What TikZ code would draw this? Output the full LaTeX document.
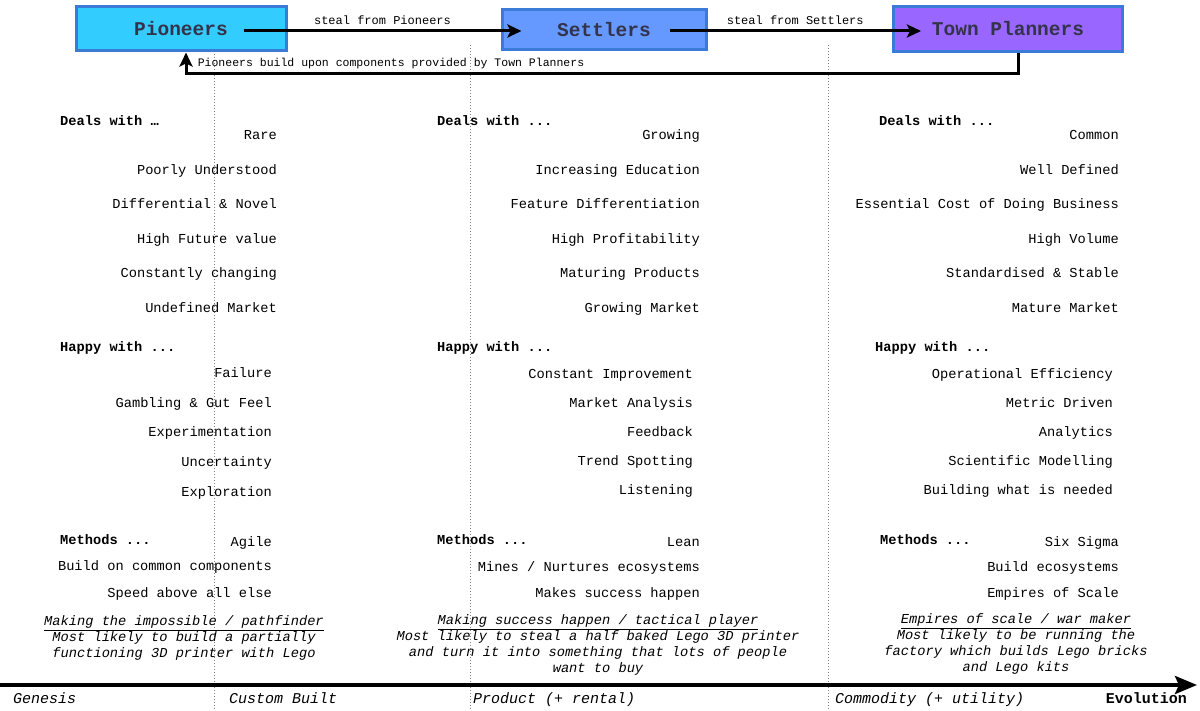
\documentclass[tikz,border=0pt]{standalone}
\usepackage{fontspec}
\setmainfont{Liberation Mono}
\usetikzlibrary{arrows.meta,positioning}
\definecolor{pioneercyan}{HTML}{33CCFF}
\definecolor{settlerblue}{HTML}{6699FF}
\definecolor{plannerpurple}{HTML}{9966FF}
\definecolor{boxedge}{HTML}{3A7BD8}
\definecolor{boxtext}{HTML}{33334A}
\newcommand{\sizeto}[1]{\fontsize{#1}{16pt}\selectfont}
\begin{document}
\begin{tikzpicture}[x=1pt,y=-1pt,
  rolebox/.style={draw=boxedge,line width=3pt,text=boxtext,font=\sizeto{19.5pt}\bfseries,inner sep=0pt},
  flow/.style={line width=3pt,-{Stealth[length=14pt,width=13pt,inset=3pt]}},
  item/.style={font=\sizeto{13.7pt},inner sep=0pt,text height=9pt,text depth=0pt},
  head/.style={item,font=\sizeto{13.7pt}\bfseries},
  story/.style={font=\sizeto{13.7pt}\itshape,align=center,inner sep=0pt},
  stage/.style={font=\sizeto{15pt}\itshape,inner sep=0pt,text height=10pt,text depth=0pt},
  phase/.style={gray,line width=1pt,dash pattern=on 1pt off 2pt}]
  \useasboundingbox (0,0) rectangle (1200,711);
  % phase boundaries
  \foreach \x in {214,470,828} \draw[phase] (\x,45) -- (\x,711);
  % the three roles
  \node[rolebox,fill=pioneercyan,minimum width=210pt,minimum height=44pt] (pio) at (181,29) {Pioneers};
  \node[rolebox,fill=settlerblue,minimum width=204pt,minimum height=40pt] (set) at (604,30) {Settlers};
  \node[rolebox,fill=plannerpurple,minimum width=229pt,minimum height=45pt] (tp) at (1008,29) {Town Planners};
  \draw[flow] ([xshift=-44pt,yshift=-2pt]pio.east) -- ([xshift=21pt,yshift=-1pt]set.west)
    node[midway,above=2pt,font=\sizeto{12pt}] (steal1) {steal from Pioneers};
  \draw[flow] ([xshift=-38pt,yshift=-1pt]set.east) -- ([xshift=29pt,yshift=-2pt]tp.west)
    node[midway,above=2pt,font=\sizeto{12pt}] (steal2) {steal from Settlers};
  \coordinate (back) at (391,74);
  \draw[flow] ([xshift=10pt]tp.south) |- (back) -| ([xshift=5pt]pio.south);
  \node[font=\sizeto{11.5pt},inner sep=0pt] (backlbl) at (391,64) {Pioneers build upon components provided by Town Planners};
  % Pioneers column
  \node[head,anchor=west] (phead1) at (60,121) {Deals with …};
  \foreach \t [count=\i] in {Rare,Poorly Understood,Differential \& Novel,High Future value,Constantly changing,Undefined Market}
    \node[item,anchor=east] (pdeal\i) at (277,{135+34.6*(\i-1)}) {\t};
  \node[head,anchor=west] (phead2) at (60,347) {Happy with ...};
  \foreach \t [count=\i] in {Failure,Gambling \& Gut Feel,Experimentation,Uncertainty,Exploration}
    \node[item,anchor=east] (phappy\i) at (272,{373+29.7*(\i-1)}) {\t};
  \node[head,anchor=west] (phead3) at (60,540) {Methods ...};
  \node[item,anchor=east] (pmeth1) at (272,542) {Agile};
  \node[item,anchor=east] (pmeth2) at (272,566) {Build on common components};
  \node[item,anchor=east] (pmeth3) at (272,593) {Speed above all else};
  \node[story] (pstory) at (184,638) {\underline{Making the impossible / pathfinder}\\Most likely to build a partially\\functioning 3D printer with Lego};
  % Settlers column
  \node[head,anchor=west] (shead1) at (437,121) {Deals with ...};
  \foreach \t [count=\i] in {Growing,Increasing Education,Feature Differentiation,High Profitability,Maturing Products,Growing Market}
    \node[item,anchor=east] (sdeal\i) at (700,{135+34.6*(\i-1)}) {\t};
  \node[head,anchor=west] (shead2) at (437,347) {Happy with ...};
  \foreach \t [count=\i] in {Constant Improvement,Market Analysis,Feedback,Trend Spotting,Listening}
    \node[item,anchor=east] (shappy\i) at (693,{374+29*(\i-1)}) {\t};
  \node[head,anchor=west] (shead3) at (437,540) {Methods ...};
  \node[item,anchor=east] (smeth1) at (700,542) {Lean};
  \node[item,anchor=east] (smeth2) at (700,567) {Mines / Nurtures ecosystems};
  \node[item,anchor=east] (smeth3) at (700,593) {Makes success happen};
  \node[story] (sstory) at (598,645) {\underline{Making success happen / tactical player}\\Most likely to steal a half baked Lego 3D printer\\and turn it into something that lots of people\\want to buy};
  % Town Planners column
  \node[head,anchor=west] (thead1) at (879,121) {Deals with ...};
  \foreach \t [count=\i] in {Common,Well Defined,Essential Cost of Doing Business,High Volume,Standardised \& Stable,Mature Market}
    \node[item,anchor=east] (tdeal\i) at (1119,{135+34.6*(\i-1)}) {\t};
  \node[head,anchor=west] (thead2) at (875,347) {Happy with ...};
  \foreach \t [count=\i] in {Operational Efficiency,Metric Driven,Analytics,Scientific Modelling,Building what is needed}
    \node[item,anchor=east] (thappy\i) at (1113,{374+29*(\i-1)}) {\t};
  \node[head,anchor=west] (thead3) at (880,540) {Methods ...};
  \node[item,anchor=east] (tmeth1) at (1119,542) {Six Sigma};
  \node[item,anchor=east] (tmeth2) at (1119,567) {Build ecosystems};
  \node[item,anchor=east] (tmeth3) at (1119,593) {Empires of Scale};
  \node[story] (tstory) at (1016,644) {\underline{Empires of scale / war maker}\\Most likely to be running the\\factory which builds Lego bricks\\and Lego kits};
  % evolution axis
  \coordinate (axstart) at (0,685);
  \coordinate (axend) at (1197,685);
  \draw[line width=4pt,-{Stealth[length=22pt,width=18pt,inset=4pt]}] (axstart) -- (axend);
  \node[stage,anchor=west] (genesis) at (13,698) {Genesis};
  \node[stage,anchor=west] (custom) at (229,698) {Custom Built};
  \node[stage,anchor=west] (product) at (473,698) {Product (+ rental)};
  \node[stage,anchor=west] (commodity) at (835,698) {Commodity (+ utility)};
  \node[stage,anchor=east,font=\sizeto{15pt}\bfseries] (evo) at (1187,698) {Evolution};
\end{tikzpicture}
\end{document}
